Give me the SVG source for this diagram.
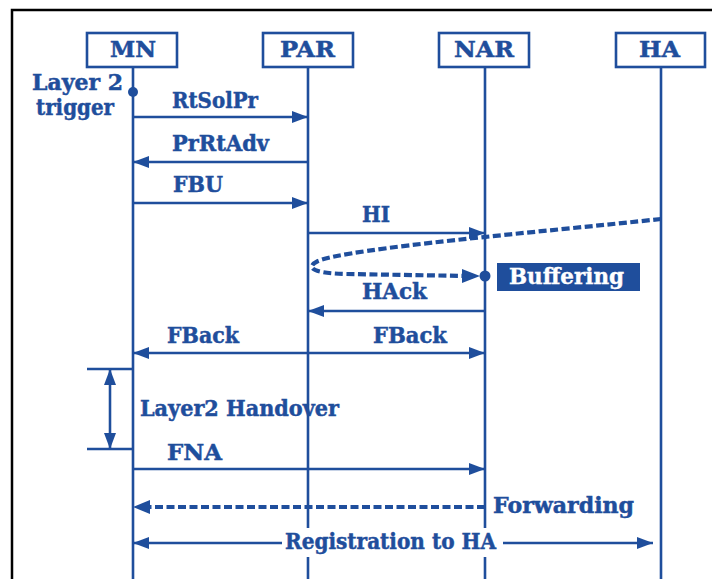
<svg xmlns="http://www.w3.org/2000/svg" width="712" height="579" viewBox="0 0 712 579">
  <style>
    .ln { stroke: #1f4e9c; stroke-width: 2.6; fill: none; }
    .msg { stroke: #1f4e9c; stroke-width: 2.3; fill: none; }
    .dash { stroke: #1f4e9c; stroke-width: 4.2; fill: none; stroke-dasharray: 8 3.5; }
    .box { stroke: #1f4e9c; stroke-width: 2.6; fill: #ffffff; }
    .t { font-family: "DejaVu Serif", "Liberation Serif", serif; font-weight: bold; font-size: 22px; fill: #1f4e9c; stroke: #1f4e9c; stroke-width: 0.5; }
    .tw { font-family: "DejaVu Serif", "Liberation Serif", serif; font-weight: bold; font-size: 22px; fill: #ffffff; stroke: #ffffff; stroke-width: 0.4; }
  </style>
  <defs>
    <marker id="ah" viewBox="0 0 16 12" refX="16" refY="6" markerWidth="16" markerHeight="12" markerUnits="userSpaceOnUse" orient="auto-start-reverse">
      <path d="M0,0 L16,6 L0,12 Z" fill="#1f4e9c"/>
    </marker>
  </defs>

  <rect width="712" height="579" fill="#ffffff"/>
  <!-- frame -->
  <path d="M12,579 V10 H712" stroke="#000" stroke-width="2.5" fill="none"/>

  <!-- lifelines -->
  <g id="lifelines">
    <line class="ln" x1="133" y1="67" x2="133" y2="579"/>
    <path class="ln" d="M308,67 V528 M308,557 V579"/>
    <path class="ln" d="M485,67 V528 M485,557 V579"/>
    <line class="ln" x1="661" y1="67" x2="661" y2="579"/>
  </g>

  <g id="node-mn">
    <rect class="box" x="87" y="33" width="90" height="34"/>
    <text class="t" x="110" y="57" textLength="46" lengthAdjust="spacingAndGlyphs">MN</text>
  </g>
  <g id="node-par">
    <rect class="box" x="263" y="33" width="90" height="34"/>
    <text class="t" x="280" y="57" textLength="55" lengthAdjust="spacingAndGlyphs">PAR</text>
  </g>
  <g id="node-nar">
    <rect class="box" x="439" y="33" width="90" height="34"/>
    <text class="t" x="454" y="57" textLength="60" lengthAdjust="spacingAndGlyphs">NAR</text>
  </g>
  <g id="node-ha">
    <rect class="box" x="616" y="33" width="89" height="34"/>
    <text class="t" x="639" y="57" textLength="41" lengthAdjust="spacingAndGlyphs">HA</text>
  </g>

  <!-- layer 2 trigger event -->
  <g id="trigger">
    <circle cx="133" cy="92" r="5" fill="#1f4e9c"/>
    <text class="t" x="32" y="90" textLength="91" lengthAdjust="spacingAndGlyphs">Layer 2</text>
    <text class="t" x="36" y="115" textLength="78" lengthAdjust="spacingAndGlyphs">trigger</text>
  </g>

  <g id="buffering">
    <rect x="497" y="263" width="143" height="28" fill="#1f4e9c"/>
    <text class="tw" x="509" y="284" textLength="115" lengthAdjust="spacingAndGlyphs">Buffering</text>
  </g>

  <!-- messages -->
  <g id="connectors">
    <line class="msg" x1="133" y1="117" x2="308" y2="117" marker-end="url(#ah)"/>
    <line class="msg" x1="308" y1="162" x2="133" y2="162" marker-end="url(#ah)"/>
    <line class="msg" x1="133" y1="203" x2="308" y2="203" marker-end="url(#ah)"/>
    <line class="msg" x1="308" y1="233" x2="485" y2="233" marker-end="url(#ah)"/>
    <line class="msg" x1="485" y1="311" x2="308" y2="311" marker-end="url(#ah)"/>
    <line class="msg" x1="133" y1="353" x2="485" y2="353" marker-start="url(#ah)" marker-end="url(#ah)"/>
    <line class="msg" x1="133" y1="469" x2="485" y2="469" marker-end="url(#ah)"/>

    <!-- data path redirected into the buffer at NAR -->
    <path class="dash" d="M661,219 C540,232 350,248 318,261 C306,267 310,273 345,274 L470,276"/>
    <path d="M462,269 L480,276 L462,283 Z" fill="#1f4e9c"/>
    <circle cx="485" cy="276" r="5.5" fill="#1f4e9c"/>

    <!-- forwarding to MN -->
    <line class="dash" x1="485" y1="507" x2="146" y2="507"/>
    <path d="M133,507 L150,500 L150,514 Z" fill="#1f4e9c"/>

    <!-- layer 2 handover interval -->
    <path class="msg" d="M87,369 H133 M87,449 H133"/>
    <line class="msg" x1="110" y1="449" x2="110" y2="369" marker-end="url(#ah)"/>
    <line class="msg" x1="110" y1="369" x2="110" y2="449" marker-end="url(#ah)"/>

    <!-- registration to HA -->
    <path class="msg" d="M282,543 H133" marker-end="url(#ah)"/>
    <path class="msg" d="M503,543 H653" marker-end="url(#ah)"/>
  </g>

  <!-- labels -->
  <g id="labels">
    <text class="t" x="172" y="108" textLength="86" lengthAdjust="spacingAndGlyphs">RtSolPr</text>
    <text class="t" x="172" y="151" textLength="97" lengthAdjust="spacingAndGlyphs">PrRtAdv</text>
    <text class="t" x="173" y="192" textLength="50" lengthAdjust="spacingAndGlyphs">FBU</text>
    <text class="t" x="362" y="222" textLength="28" lengthAdjust="spacingAndGlyphs">HI</text>
    <text class="t" x="362" y="299" textLength="65" lengthAdjust="spacingAndGlyphs">HAck</text>
    <text class="t" x="167" y="343" textLength="72" lengthAdjust="spacingAndGlyphs">FBack</text>
    <text class="t" x="373" y="343" textLength="74" lengthAdjust="spacingAndGlyphs">FBack</text>
    <text class="t" x="140" y="416" textLength="199" lengthAdjust="spacingAndGlyphs">Layer2 Handover</text>
    <text class="t" x="167" y="460" textLength="55" lengthAdjust="spacingAndGlyphs">FNA</text>
    <text class="t" x="493" y="513" textLength="141" lengthAdjust="spacingAndGlyphs">Forwarding</text>
    <text class="t" x="285" y="549" textLength="211" lengthAdjust="spacingAndGlyphs">Registration to HA</text>
  </g>
</svg>
